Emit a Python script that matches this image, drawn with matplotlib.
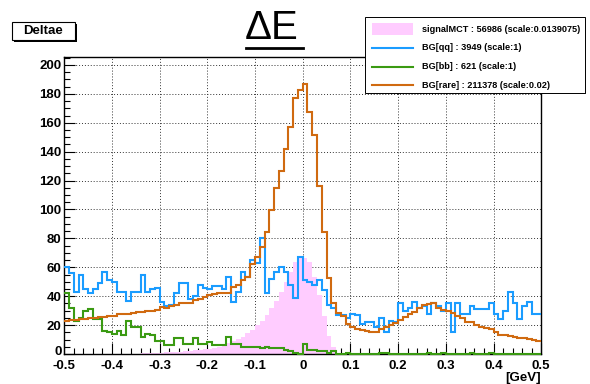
import numpy as np
import matplotlib
matplotlib.use("Agg")
import matplotlib.pyplot as plt
import matplotlib.transforms as mtransforms
from matplotlib.patches import Rectangle
from matplotlib.lines import Line2D
from matplotlib.ticker import MultipleLocator, FixedLocator, FixedFormatter

plt.rcParams['font.family'] = ['Liberation Sans', 'DejaVu Sans']

# Delta E distribution, 100 bins over [-0.5, 0.5] GeV
x_low, x_high = -0.5, 0.5
n_bins = 100

signal_mct = [
    0, 0, 0, 0, 0, 0, 0, 0, 0, 0,
    0, 0, 0, 0, 0.3, 0.3, 0.4, 0.5, 0.6, 0.8,
    0.9, 1.1, 1.3, 1.5, 1.7, 1.9, 2.2, 2.5, 2.8, 3.2,
    3.6, 4.0, 4.6, 5.8, 7.4, 9.0, 10.4, 12.0, 14.3, 16.6,
    20.0, 23.0, 27.0, 31.5, 37.0, 43.0, 49.8, 56.5, 64.0, 67.4,
    66.5, 63.5, 53.0, 40.5, 26.0, 12.5, 5.0, 0.8, 0.2, 0,
    0, 0, 0, 0, 0, 0, 0, 0, 0, 0,
    0, 0, 0, 0, 0, 0, 0, 0, 0, 0,
    0, 0, 0, 0, 0, 0, 0, 0, 0, 0,
    0, 0, 0, 0, 0, 0, 0, 0, 0, 0,
]

bg_qq = [
    60, 56, 43, 55, 45, 42, 45, 49, 57, 51,
    50, 43, 43, 37, 43, 43, 55, 43, 45, 46,
    36, 33, 34, 42, 49, 49, 38, 40, 48, 46,
    45, 47, 47, 45, 53, 36, 43, 57, 53, 65,
    63, 80, 42, 52, 57, 60, 57, 48, 39, 67,
    51, 50, 48, 51, 44, 34, 32, 27, 27, 25,
    28, 27, 21, 22, 22, 19, 25, 15, 23, 22,
    35, 30, 32, 36, 32, 33, 28, 35, 33, 30,
    35, 15, 35, 28, 28, 33, 31, 31, 31, 35,
    28, 24, 30, 43, 35, 24, 33, 36, 28, 28,
]

bg_bb = [
    42, 32, 23, 25, 30, 31, 24, 24, 16, 15,
    14, 16, 13, 23, 19, 19, 12, 14, 13, 9,
    9, 6, 6, 11, 11, 7, 7, 11, 7, 7,
    8, 6, 6, 6, 12, 7, 7, 5, 5, 5,
    5, 4, 5, 4, 4, 4, 3, 2, 1, 0,
    7, 3, 3, 2, 2, 1, 2, 0, 0, 1,
    0, 0, 0, 0, 0, 0, 1, 1, 0, 0,
    0, 0, 0, 0, 0, 0, 1, 0, 0, 1,
    0, 0, 0, 0, 0, 1, 0, 0, 0, 1,
    0, 0, 0, 0, 0, 0, 0, 0, 0, 0,
]

bg_rare = [
    22.5, 23.5, 23.5, 24.0, 24.5, 25.0, 25.0, 25.5, 25.5, 26.0,
    26.5, 27.5, 27.5, 28.0, 28.5, 29.0, 28.8, 29.5, 30.0, 30.5,
    32.3, 32.0, 33.0, 34.0, 35.0, 35.0, 35.5, 37.5, 38.0, 39.5,
    40.5, 41.5, 42.0, 42.5, 42.5, 46.5, 47.5, 51.0, 53.0, 62.0,
    67.4, 74.3, 84.6, 99.6, 114.7, 126.6, 141.9, 157.3, 177.4, 182.7,
    186.9, 167.7, 151.6, 116.5, 84.4, 52.4, 35.0, 28.5, 26.0, 21.0,
    18.9, 17.3, 16.6, 15.9, 15.5, 15.0, 17.3, 18.9, 20.0, 21.2,
    23.5, 25.8, 27.4, 29.3, 31.6, 34.0, 34.5, 35.0, 31.6, 30.7,
    29.5, 28.7, 26.5, 24.7, 22.4, 22.0, 20.3, 18.4, 17.7, 17.2,
    15.2, 13.4, 13.1, 12.6, 12.0, 11.4, 11.3, 10.5, 10.0, 9.3,
]

legend_labels = [
    "signalMCT : 56986 (scale:0.0139075)",
    "BG[qq] : 3949 (scale:1)",
    "BG[bb] : 621 (scale:1)",
    "BG[rare] : 211378 (scale:0.02)",
]

x_ticks = [-0.5, -0.4, -0.3, -0.2, -0.1, 0.0, 0.1, 0.2, 0.3, 0.4, 0.5]
x_tick_labels = ["-0.5", "-0.4", "-0.3", "-0.2", "-0.1", "0",
                 "0.1", "0.2", "0.3", "0.4", "0.5"]
y_ticks = [0, 20, 40, 60, 80, 100, 120, 140, 160, 180, 200]
y_tick_labels = [str(v) for v in y_ticks]

c_signal = '#ffccff'
c_qq = '#1a9cff'
c_bb = '#3a9a12'
c_rare = '#d06a10'

W, H = 590, 384
fig = plt.figure(figsize=(W / 100, H / 100), dpi=100)


def fx(px):
    return px / W


def fy(py):
    return 1 - py / H


ax = fig.add_axes([fx(64.2), fy(354), (541.2 - 64.2) / W, (354 - 57) / H])
edges = np.linspace(x_low, x_high, n_bins + 1)

ax.stairs(signal_mct, edges, fill=True, color=c_signal, lw=0, zorder=2)
ax.stairs(bg_qq, edges, baseline=None, color=c_qq, lw=1.5, zorder=3, clip_on=False)
ax.stairs(bg_bb, edges, baseline=None, color=c_bb, lw=1.5, zorder=4, clip_on=False)
ax.stairs(bg_rare, edges, baseline=None, color=c_rare, lw=1.5, zorder=5, clip_on=False)

ax.set_xlim(x_low, x_high)
ax.set_ylim(0, 205.5)

ax.xaxis.set_major_locator(FixedLocator(x_ticks))
ax.xaxis.set_major_formatter(FixedFormatter(x_tick_labels))
ax.xaxis.set_minor_locator(MultipleLocator(0.02))
ax.yaxis.set_major_locator(FixedLocator(y_ticks))
ax.yaxis.set_major_formatter(FixedFormatter(y_tick_labels))
ax.yaxis.set_minor_locator(MultipleLocator(5))

ax.tick_params(which='major', direction='in', length=8, width=0.8,
               labelsize=9.5, top=False, right=False)
ax.tick_params(which='minor', direction='in', length=4, width=0.8,
               top=False, right=False)
ax.tick_params(axis='x', pad=4.5)
ax.tick_params(axis='y', pad=2)
for lbl in ax.get_xticklabels() + ax.get_yticklabels():
    lbl.set_fontweight('bold')

# the "0" on the y axis sits slightly above the x tick labels
zero_lbl = ax.yaxis.get_major_ticks()[0].label1
zero_lbl.set_transform(zero_lbl.get_transform() +
                       mtransforms.ScaledTranslation(0, 2.5 / 72, fig.dpi_scale_trans))

ax.grid(True, which='major', linestyle=(0, (1, 2)), color='#333333', linewidth=0.7)
ax.set_axisbelow(True)
for sp in ax.spines.values():
    sp.set_linewidth(1.0)
    sp.set_color('black')

fig.text(fx(541), fy(378), "[GeV]", ha='right', va='center',
         fontsize=9.5, fontweight='bold')

# title with underline
fig.text(fx(272), fy(28), "\u0394E", ha='center', va='center', fontsize=29)
fig.add_artist(Line2D([fx(246), fx(303)], [fy(48), fy(48)], color='black', lw=2.0))

# histogram name box
fig.add_artist(Rectangle((fx(13.5), fy(41.5)), fx(75) - fx(12), fy(22) - fy(40),
                         facecolor='black', edgecolor='none'))
fig.add_artist(Rectangle((fx(12), fy(40)), fx(75) - fx(12), fy(22) - fy(40),
                         facecolor='white', edgecolor='black', lw=0.8))
fig.text(fx(43.5), fy(31), "Deltae", ha='center', va='center',
         fontsize=9.5, fontweight='bold')

# legend box
lx0, lx1, ly0, ly1 = 365, 585, 17, 93
fig.add_artist(Rectangle((fx(lx0 + 1), fy(ly1 + 1)), fx(lx1) - fx(lx0), fy(ly0) - fy(ly1),
                         facecolor='#555555', edgecolor='none'))
fig.add_artist(Rectangle((fx(lx0), fy(ly1)), fx(lx1) - fx(lx0), fy(ly0) - fy(ly1),
                         facecolor='white', edgecolor='black', lw=0.7))
entry_y = [29, 47.5, 66.5, 85]
fig.add_artist(Rectangle((fx(372), fy(35)), fx(413) - fx(372), fy(23) - fy(35),
                         facecolor=c_signal, edgecolor='none'))
for yy, col in zip(entry_y[1:], [c_qq, c_bb, c_rare]):
    fig.add_artist(Line2D([fx(372), fx(413)], [fy(yy), fy(yy)], color=col, lw=1.5))
for yy, txt in zip(entry_y, legend_labels):
    fig.text(fx(422), fy(yy), txt, ha='left', va='center',
             fontsize=6.6, fontweight='bold')

fig.savefig("out.png", dpi=100)
